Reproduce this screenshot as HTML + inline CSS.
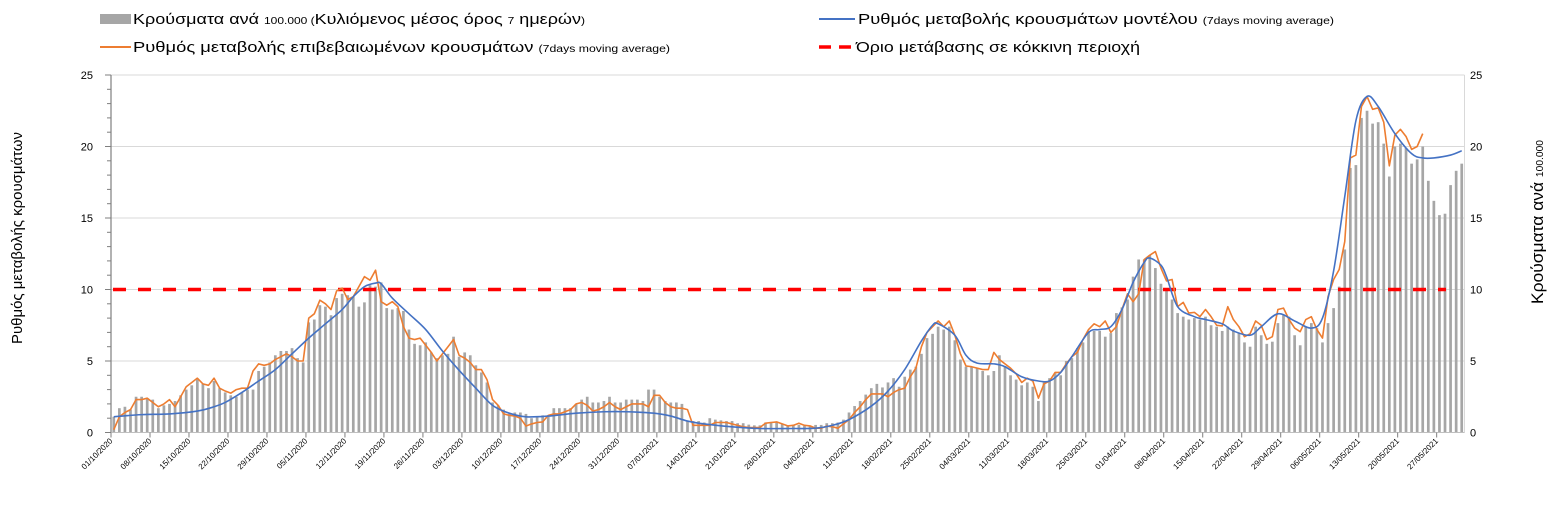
<!DOCTYPE html>
<html><head><meta charset="utf-8">
<style>
html,body{margin:0;padding:0;background:#fff;}
svg{display:block;font-family:"Liberation Sans",sans-serif;}
</style></head>
<body>
<svg id="chart" width="1556" height="517" viewBox="0 0 1556 517" xmlns="http://www.w3.org/2000/svg">
  <g>
    <rect x="100" y="14" width="31" height="10" fill="#a6a6a6"/>
    <text x="133" y="24" font-size="15" fill="#000" textLength="452" lengthAdjust="spacingAndGlyphs">Κρούσματα ανά <tspan font-size="10">100.000 (</tspan>Κυλιόμενος μέσος όρος <tspan font-size="10">7</tspan> ημερών<tspan font-size="10">)</tspan></text>
    <line x1="100" y1="47" x2="131" y2="47" stroke="#ed7d31" stroke-width="2"/>
    <text x="133" y="52" font-size="15" fill="#000" textLength="537" lengthAdjust="spacingAndGlyphs">Ρυθμός μεταβολής επιβεβαιωμένων κρουσμάτων <tspan font-size="10">(7days moving average)</tspan></text>
    <line x1="819" y1="19" x2="855" y2="19" stroke="#4472c4" stroke-width="2"/>
    <text x="858" y="24" font-size="15" fill="#000" textLength="476" lengthAdjust="spacingAndGlyphs">Ρυθμός μεταβολής κρουσμάτων μοντέλου <tspan font-size="10">(7days moving average)</tspan></text>
    <line x1="819" y1="47" x2="855" y2="47" stroke="#ff0000" stroke-width="3.5" stroke-dasharray="12,8"/>
    <text x="856" y="52" font-size="15" fill="#000" textLength="284" lengthAdjust="spacingAndGlyphs">Όριο μετάβασης σε κόκκινη περιοχή</text>
  </g>
  <text transform="translate(22,238) rotate(-90)" text-anchor="middle" font-size="15" fill="#000" textLength="212" lengthAdjust="spacingAndGlyphs">Ρυθμός μεταβολής κρουσμάτων</text>
  <text transform="translate(1543,222) rotate(-90)" text-anchor="middle" font-size="17" fill="#000" textLength="164" lengthAdjust="spacingAndGlyphs">Κρούσματα ανά <tspan font-size="10">100.000</tspan></text>
  <g id="grid"></g>
  <g id="bars"></g>
  <g id="axes"></g>
  <g id="lines"></g>
</svg>
<script>
const barValues = [1.1,1.7,1.8,1.6,2.5,2.5,2.4,2.3,1.7,1.9,2.0,2.2,2.6,3.0,3.3,3.7,3.4,3.1,3.6,3.1,2.8,2.6,2.5,2.8,3.0,3.0,4.3,
4.6,4.9,5.4,5.7,5.7,5.9,5.2,4.9,
7.7,7.9,8.9,8.8,8.2,9.4,9.7,9.6,9.5,8.8,9.1,10.3,10.2,10.5,8.7,8.6,8.7,8.5,7.2,6.2,6.1,6.3,5.6,5.2,5.4,5.5,6.7,5.3,5.6,5.4,4.7,4.2,3.5,2.1,1.9,1.6,1.3,1.4,1.4,1.3,1.0,
1.1,
1.2,1.2,1.7,1.7,1.7,1.7,2.0,2.3,2.5,2.1,2.1,2.2,2.5,2.1,2.1,2.3,2.3,2.3,2.2,3.0,3.0,2.5,2.2,2.1,2.1,2.0,0.8,0.8,0.8,0.7,1.0,0.9,0.85,0.8,0.8,0.65,0.65,0.55,0.5,0.5,0.7,0.74,0.74,0.6,0.46,0.53,0.53,0.46,0.46,0.53,0.53,0.65,0.65,0.7,0.9,1.4,1.85,2.2,2.65,3.1,3.4,3.15,3.5,3.8,3.2,3.9,4.4,4.6,5.5,6.6,6.9,7.4,7.2,7.4,6.45,5.1,4.6,4.6,4.5,4.3,4.0,4.3,5.4,4.65,4.0,3.7,3.3,3.5,3.2,2.2,
3.55,3.8,4.15,4.0,5.0,5.2,5.9,6.3,7.1,7.1,7.1,6.7,6.95,8.35,8.75,9.3,10.9,12.1,12.1,12.4,11.5,10.4,10.0,9.3,8.35,8.1,7.9,8.0,7.9,8.1,7.5,7.4,7.1,7.4,7.2,6.95,6.3,6.0,7.4,6.8,6.2,6.35,7.65,8.2,8.1,6.8,6.1,7.4,7.65,7.3,6.3,7.65,8.7,10.2,12.8,18.5,18.7,
22.0,22.5,21.6,21.7,20.2,17.9,20.0,20.2,19.9,18.8,19.1,20.0,17.6,16.2,15.2,15.3,17.3,18.3,18.8];
const confirmedRate = [0.2,1.1,1.4,1.6,2.3,2.3,2.4,2.1,1.8,2.0,2.3,1.8,2.5,3.2,3.5,3.8,3.4,3.3,3.8,3.1,2.9,2.75,3.0,3.1,3.1,4.3,4.8,4.7,4.8,5.1,5.3,5.5,5.3,5.0,5.0,8.0,8.3,9.25,9.0,8.6,9.9,10.1,9.3,9.5,10.2,10.9,10.65,11.35,9.15,8.9,9.15,8.8,7.4,6.6,6.5,6.6,6.1,5.6,5.0,5.5,6.0,6.5,5.4,5.2,4.9,4.4,4.4,3.7,2.3,1.9,1.3,1.2,1.15,1.0,0.45,0.6,
0.7,0.74,1.2,1.3,1.3,1.45,1.6,2.0,2.1,1.9,1.5,1.6,1.8,2.1,1.8,1.6,1.8,2.0,2.0,2.0,1.8,2.6,2.6,2.1,1.8,1.7,1.7,1.6,0.5,0.5,0.5,0.5,0.7,0.7,0.7,0.6,0.5,0.4,0.35,0.35,0.35,0.65,0.7,0.74,0.6,0.46,0.5,0.65,0.5,0.46,0.3,0.3,0.45,0.4,0.3,0.6,0.9,1.4,1.8,2.3,2.7,2.7,2.7,2.5,2.8,3.0,3.1,3.9,4.5,6.0,7.0,7.4,7.8,7.4,7.8,6.8,5.5,4.65,4.6,4.5,4.4,4.4,5.6,
5.1,4.8,4.5,4.1,3.5,3.8,3.6,2.4,3.4,3.6,4.2,4.2,4.8,5.3,5.6,6.5,7.2,7.6,7.4,7.8,7.0,7.4,8.6,9.7,9.15,9.7,12.1,12.4,12.65,11.5,10.6,10.7,8.8,9.1,8.35,8.4,8.1,8.6,8.1,7.5,7.45,8.8,7.9,7.4,6.7,6.9,7.8,7.5,6.5,6.7,8.6,8.7,7.9,7.3,7.05,7.9,8.1,7.2,6.6,9.5,10.7,11.4,13.35,19.2,19.4,22.8,23.5,22.6,22.7,21.7,18.65,20.8,21.2,20.7,19.8,20.0,20.9];
const modelDays = [0,5,10,15,18,20,23,26,29,32,35,38,41,43,45,47,48,50,53,56,59,62,65,68,71,74,78,83,88,92,97,100,103,106,111,116,122,126,129,132,136,139,142,145,147,148,151,153,155,158,160,163,166,168,170,172,175,177,179,181,183,185,186,188,189,191,194,196,199,201,204,206,209,212,215,217,219,221,223,225,227,230,233,235,237,240,242];
const modelRate = [1.1,1.25,1.3,1.5,1.8,2.1,2.8,3.6,4.4,5.5,6.6,7.6,8.6,9.5,10.2,10.45,10.4,9.4,8.3,7.2,5.7,4.35,3.1,1.9,1.35,1.1,1.15,1.35,1.45,1.45,1.35,1.15,0.8,0.6,0.4,0.28,0.28,0.3,0.5,0.9,1.85,2.9,4.4,6.4,7.5,7.6,6.8,5.4,4.85,4.8,4.6,3.9,3.6,3.6,4.2,5.3,7.0,7.2,7.4,8.6,10.5,11.9,12.2,11.7,10.9,8.8,8.1,7.9,7.6,7.1,6.8,7.4,8.3,7.8,7.3,8.0,11.3,16.5,21.8,23.5,22.8,20.9,19.5,19.2,19.2,19.4,19.7];
const thresholdValue = 10;
const yTicks = [0,5,10,15,20,25];
const tickLabels = ["01/10/2020","08/10/2020","15/10/2020","22/10/2020","29/10/2020","05/11/2020","12/11/2020","19/11/2020","26/11/2020","03/12/2020","10/12/2020","17/12/2020","24/12/2020","31/12/2020","07/01/2021","14/01/2021","21/01/2021","28/01/2021","04/02/2021","11/02/2021","18/02/2021","25/02/2021","04/03/2021","11/03/2021","18/03/2021","25/03/2021","01/04/2021","08/04/2021","15/04/2021","22/04/2021","29/04/2021","06/05/2021","13/05/2021","20/05/2021","27/05/2021"];
const tickDays = [0,7,14,21,28,35,42,49,56,63,70,77,84,91,98,105,112,119,126,133,140,147,154,161,168,175,182,189,196,203,210,217,224,231,238];

const NS = "http://www.w3.org/2000/svg";
const X0 = 111, DAYW = 5.57, NDAYS = 243, XR = X0 + DAYW*NDAYS;
const Y0 = 432.5, Y1 = 75;
const xBoundary = d => X0 + DAYW*d;
const xDay = d => X0 + DAYW*(d+0.5);
const yVal = v => Y0 - (v/25)*(Y0-Y1);
function mk(tag, attrs, parent){const e=document.createElementNS(NS,tag);for(const k in attrs)e.setAttribute(k,attrs[k]);parent.appendChild(e);return e;}
const grid=document.getElementById('grid'), bars=document.getElementById('bars'), axes=document.getElementById('axes'), lines=document.getElementById('lines');

yTicks.forEach(v=>{
  const g = mk('line',{x1:X0,x2:XR,y1:yVal(v),y2:yVal(v),stroke:'#d9d9d9','stroke-width':1},grid);
  
  
  const l = mk('text',{x:93,y:yVal(v)+4,'text-anchor':'end','font-size':11,fill:'#000'},axes);
  l.textContent=v;
  
  
  const r = mk('text',{x:1470,y:yVal(v)+4,'font-size':11,fill:'#000'},axes);
  r.textContent=v;
  
  
});
for(let v=0; v<=25; v++){
  const t = mk('line',{x1:X0-(v%5===0?6:4),x2:X0,y1:yVal(v),y2:yVal(v),stroke:'#7f7f7f','stroke-width':1},axes);
  
  
}
const la = mk('line',{x1:X0,x2:X0,y1:Y1,y2:Y0,stroke:'#7f7f7f','stroke-width':1.2},axes);


const ra = mk('line',{x1:XR,x2:XR,y1:Y1,y2:Y0,stroke:'#d9d9d9','stroke-width':1},axes);


const xa = mk('line',{x1:X0,x2:XR,y1:Y0,y2:Y0,stroke:'#bfbfbf','stroke-width':1},axes);



barValues.forEach((v,d)=>{
  const b = mk('rect',{x:xDay(d)-1.35,y:yVal(v),width:2.7,height:Y0-yVal(v),fill:'#a6a6a6'},bars);
  
  
});

tickDays.forEach((d,i)=>{
  const x = xBoundary(d);
  const t = mk('line',{x1:x,x2:x,y1:Y0,y2:Y0+5,stroke:'#7f7f7f','stroke-width':1},axes);
  
  
  const l = mk('text',{transform:`translate(${x+2},${Y0+9}) rotate(-45)`,'text-anchor':'end','font-size':8,fill:'#000'},axes);
  l.textContent = tickLabels[i];
  
  
});

const th = mk('line',{x1:X0+2,x2:1446,y1:yVal(thresholdValue),y2:yVal(thresholdValue),stroke:'#ff0000','stroke-width':3.5,'stroke-dasharray':'13,12'},lines);



const op = confirmedRate.map((v,d)=>(d?'L':'M')+xDay(d).toFixed(2)+','+yVal(v).toFixed(2)).join('');
const o = mk('path',{d:op,fill:'none',stroke:'#ed7d31','stroke-width':1.6,'stroke-linejoin':'round'},lines);



const pts = modelDays.map((d,i)=>[xDay(d),yVal(modelRate[i])]);
let bp = 'M'+pts[0][0]+','+pts[0][1];
for(let i=0;i<pts.length-1;i++){
  const p0=pts[Math.max(0,i-1)],p1=pts[i],p2=pts[i+1],p3=pts[Math.min(pts.length-1,i+2)];
  const c1=[p1[0]+(p2[0]-p0[0])/6,p1[1]+(p2[1]-p0[1])/6];
  const c2=[p2[0]-(p3[0]-p1[0])/6,p2[1]-(p3[1]-p1[1])/6];
  bp+=`C${c1[0].toFixed(2)},${c1[1].toFixed(2)} ${c2[0].toFixed(2)},${c2[1].toFixed(2)} ${p2[0].toFixed(2)},${p2[1].toFixed(2)}`;
}
const m = mk('path',{d:bp,fill:'none',stroke:'#4472c4','stroke-width':1.6},lines);


</script>
</body></html>
